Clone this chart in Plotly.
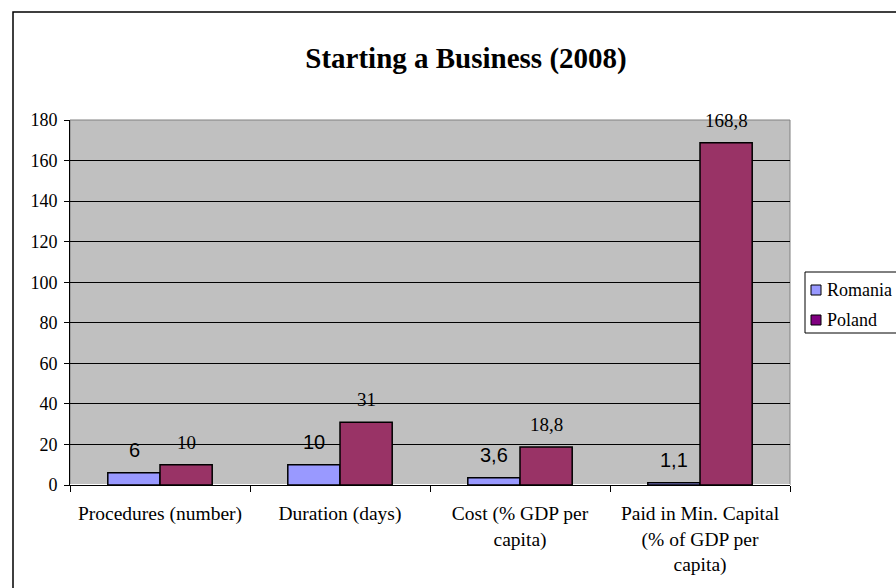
import plotly.graph_objects as go

categories = ["Procedures (number)", "Duration (days)", "Cost (% GDP per<br>capita)",
              "Paid in Min. Capital<br>(% of GDP per<br>capita)"]
series_names = ["Romania", "Poland"]
series_colors = ["#9999FF", "#993366"]
legend_colors = ["#9999FF", "#800080"]
romania = [6, 10, 3.6, 1.1]
poland = [10, 31, 18.8, 168.8]
romania_labels = ["6", "10", "3,6", "1,1"]
poland_labels = ["10", "31", "18,8", "168,8"]
y_ticks = list(range(0, 181, 20))

SERIF = "Liberation Serif, Times New Roman"
SANS = "Liberation Sans, Arial"

# plot area in pixels: x 70..790, y 120..485
def px(x):
    return (x - 70) / 720

def py(y):
    return (485 - y) / 365

fig = go.Figure()
fig.add_trace(go.Bar(name=series_names[0], x=categories, y=romania, showlegend=False,
                     marker=dict(color=series_colors[0], line=dict(color="black", width=1.5))))
fig.add_trace(go.Bar(name=series_names[1], x=categories, y=poland, showlegend=False,
                     marker=dict(color=series_colors[1], line=dict(color="black", width=1.5))))

for c, v, t in zip(categories, romania, romania_labels):
    fig.add_annotation(x=c, y=v, text=t, showarrow=False, xshift=-26, yshift=10,
                       yanchor="bottom", font=dict(family=SANS, size=20, color="black"))
for c, v, t in zip(categories, poland, poland_labels):
    fig.add_annotation(x=c, y=v, text=t, showarrow=False, xshift=26, yshift=10,
                       yanchor="bottom", font=dict(family=SERIF, size=19, color="black"))

# outer chart border
fig.add_shape(type="rect", xref="paper", yref="paper", x0=px(13), x1=1.3, y0=-0.5, y1=py(12),
              line=dict(color="black", width=1.5), fillcolor="rgba(0,0,0,0)", layer="below")
# plot area border
fig.add_shape(type="rect", xref="paper", yref="paper", x0=0, x1=1, y0=0, y1=1,
              line=dict(color="#808080", width=1), layer="below")

# legend drawn as shapes + annotations
fig.add_shape(type="rect", xref="paper", yref="paper", x0=px(805), x1=px(930), y0=py(333), y1=py(272),
              line=dict(color="black", width=1), fillcolor="white")
for i, (name, col) in enumerate(zip(series_names, legend_colors)):
    cy = 290 + 30 * i
    fig.add_shape(type="rect", xref="paper", yref="paper", x0=px(811), x1=px(821),
                  y0=py(cy + 5), y1=py(cy - 5), line=dict(color="black", width=1), fillcolor=col)
    fig.add_annotation(xref="paper", yref="paper", x=px(825), y=py(cy), text=name,
                       showarrow=False, xanchor="left", yanchor="middle",
                       font=dict(family=SERIF, size=18, color="black"))

fig.update_layout(
    width=896, height=588,
    margin=dict(l=70, r=106, t=120, b=103, autoexpand=False),
    paper_bgcolor="white", plot_bgcolor="#C0C0C0",
    barmode="group", bargap=0.42, bargroupgap=0,
    font=dict(family=SERIF, size=18, color="black"),
    title=dict(text="<b>Starting a Business (2008)</b>", x=466/896, xanchor="center",
               y=1-58/588, yanchor="middle",
               font=dict(family=SERIF, size=29, color="black")),
    showlegend=False,
    xaxis=dict(ticks="outside", tickson="boundaries", ticklen=6, tickcolor="black",
               showline=True, linecolor="black", linewidth=1, mirror=False,
               tickfont=dict(size=19.5), ticklabelstandoff=11),
    yaxis=dict(range=[0, 180], tickvals=y_ticks, ticks="outside", ticklen=5, tickcolor="black",
               showgrid=True, gridcolor="black", gridwidth=1,
               showline=True, linecolor="black", linewidth=1,
               tickfont=dict(size=18), ticklabelstandoff=3),
)

fig.write_html("out.html")
